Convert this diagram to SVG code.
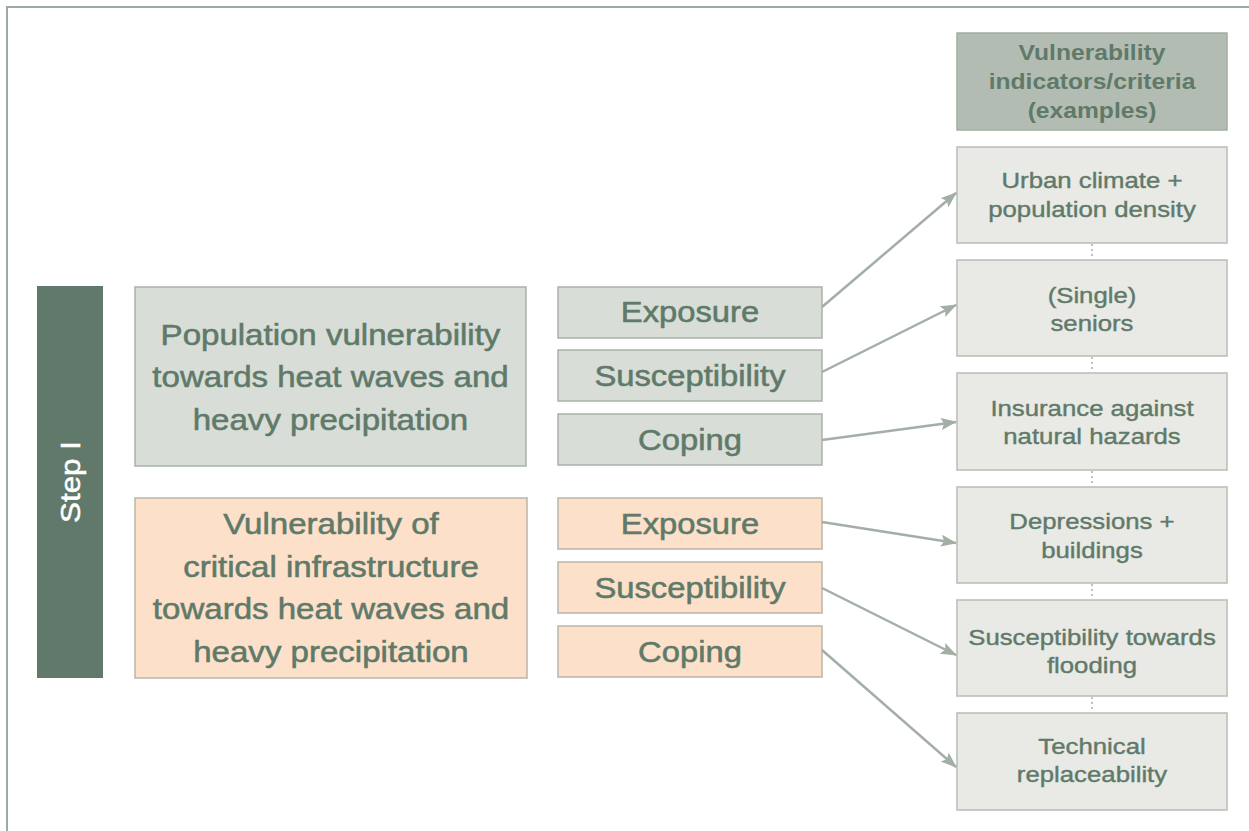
<svg xmlns="http://www.w3.org/2000/svg" width="1249" height="831" viewBox="0 0 1249 831">
<defs>
<marker id="ah" markerWidth="16" markerHeight="12" refX="15" refY="6" orient="auto" markerUnits="userSpaceOnUse">
<path d="M0,0 L16,6 L0,12 L3,6 Z" fill="#a3aea5"/>
</marker>
<style>
.t{font-family:"Liberation Sans",Arial,Helvetica,sans-serif;fill:#5f7a69;text-anchor:middle}
.big{font-size:29px;stroke:#5f7a69;stroke-width:0.55}
.sm{font-size:23px;stroke:#5f7a69;stroke-width:0.4}
.hd{font-size:22px;font-weight:bold}
.g1{fill:#d8ddd7;stroke:#a9b3aa;stroke-width:1.5}
.pe{fill:#fde0c9;stroke:#b9b7a8;stroke-width:1.5}
.rb{fill:#e9e9e6;stroke:#b7bdb6;stroke-width:1.5}
.hb{fill:#b3bcb2;stroke:#a2ada2;stroke-width:1.5}
.arr{stroke:#a3aea5;stroke-width:2.5;fill:none;marker-end:url(#ah)}
.dot{stroke:#a9aea9;stroke-width:1.5;stroke-dasharray:2 3;fill:none}
</style>
</defs>
<rect width="1249" height="831" fill="#ffffff"/>
<path d="M7,831 L7,7 L1249,7" fill="none" stroke="#9eaaa0" stroke-width="2"/>

<g id="step">
<rect x="37" y="286" width="66" height="392" fill="#61796a"/>
<text transform="matrix(0 -1.12 1 0 80 482)" x="0" y="0" style="font-family:'Liberation Sans',Arial,sans-serif;font-size:28px;fill:#ffffff;stroke:#ffffff;stroke-width:0.5;text-anchor:middle">Step I</text>
</g>

<g id="pop">
<rect class="g1" x="135" y="287" width="391" height="179"/>
<g transform="matrix(1.14 0 0 1 330.5 0)">
<text class="t big" x="0" y="345">Population vulnerability</text>
<text class="t big" x="0" y="387.5">towards heat waves and</text>
<text class="t big" x="0" y="430">heavy precipitation</text>
</g>
</g>

<g id="infra">
<rect class="pe" x="135" y="498" width="392" height="180"/>
<g transform="matrix(1.14 0 0 1 331 0)">
<text class="t big" x="0" y="534">Vulnerability of</text>
<text class="t big" x="0" y="577">critical infrastructure</text>
<text class="t big" x="0" y="619.5">towards heat waves and</text>
<text class="t big" x="0" y="662">heavy precipitation</text>
</g>
</g>

<g id="exp1"><rect class="g1" x="558" y="287" width="264" height="51"/><text class="t big" transform="matrix(1.13 0 0 1 690 322)" x="0" y="0">Exposure</text></g>
<g id="sus1"><rect class="g1" x="558" y="350" width="264" height="51"/><text class="t big" transform="matrix(1.13 0 0 1 690 386)" x="0" y="0">Susceptibility</text></g>
<g id="cop1"><rect class="g1" x="558" y="414" width="264" height="51"/><text class="t big" transform="matrix(1.13 0 0 1 690 450)" x="0" y="0">Coping</text></g>
<g id="exp2"><rect class="pe" x="558" y="498" width="264" height="51"/><text class="t big" transform="matrix(1.13 0 0 1 690 534)" x="0" y="0">Exposure</text></g>
<g id="sus2"><rect class="pe" x="558" y="562" width="264" height="51"/><text class="t big" transform="matrix(1.13 0 0 1 690 598)" x="0" y="0">Susceptibility</text></g>
<g id="cop2"><rect class="pe" x="558" y="626" width="264" height="51"/><text class="t big" transform="matrix(1.13 0 0 1 690 662)" x="0" y="0">Coping</text></g>

<g id="header">
<rect class="hb" x="957" y="33" width="270" height="97"/>
<g transform="matrix(1.12 0 0 1 1092 0)">
<text class="t hd" x="0" y="60">Vulnerability</text>
<text class="t hd" x="0" y="89">indicators/criteria</text>
<text class="t hd" x="0" y="118">(examples)</text>
</g>
</g>

<g id="ind1"><rect class="rb" x="957" y="147" width="270" height="96"/>
<g transform="matrix(1.12 0 0 1 1092 0)"><text class="t sm" x="0" y="188">Urban climate +</text><text class="t sm" x="0" y="217">population density</text></g></g>
<g id="ind2"><rect class="rb" x="957" y="260" width="270" height="96"/>
<g transform="matrix(1.12 0 0 1 1092 0)"><text class="t sm" x="0" y="303">(Single)</text><text class="t sm" x="0" y="331">seniors</text></g></g>
<g id="ind3"><rect class="rb" x="957" y="373" width="270" height="97"/>
<g transform="matrix(1.12 0 0 1 1092 0)"><text class="t sm" x="0" y="416">Insurance against</text><text class="t sm" x="0" y="444">natural hazards</text></g></g>
<g id="ind4"><rect class="rb" x="957" y="487" width="270" height="96"/>
<g transform="matrix(1.12 0 0 1 1092 0)"><text class="t sm" x="0" y="529">Depressions +</text><text class="t sm" x="0" y="558">buildings</text></g></g>
<g id="ind5"><rect class="rb" x="957" y="600" width="270" height="96"/>
<g transform="matrix(1.12 0 0 1 1092 0)"><text class="t sm" x="0" y="645">Susceptibility towards</text><text class="t sm" x="0" y="673">flooding</text></g></g>
<g id="ind6"><rect class="rb" x="957" y="713" width="270" height="97"/>
<g transform="matrix(1.12 0 0 1 1092 0)"><text class="t sm" x="0" y="754">Technical</text><text class="t sm" x="0" y="782">replaceability</text></g></g>

<g id="connectors">
<path class="dot" d="M1092,244 V259 M1092,357 V372 M1092,471 V486 M1092,584 V599 M1092,697 V712"/>
<path class="arr" d="M822,307 L956,193"/>
<path class="arr" d="M822,372 L956,305"/>
<path class="arr" d="M822,440 L956,422"/>
<path class="arr" d="M822,522 L956,543"/>
<path class="arr" d="M822,588 L956,655"/>
<path class="arr" d="M822,650 L956,767"/>
</g>
</svg>
